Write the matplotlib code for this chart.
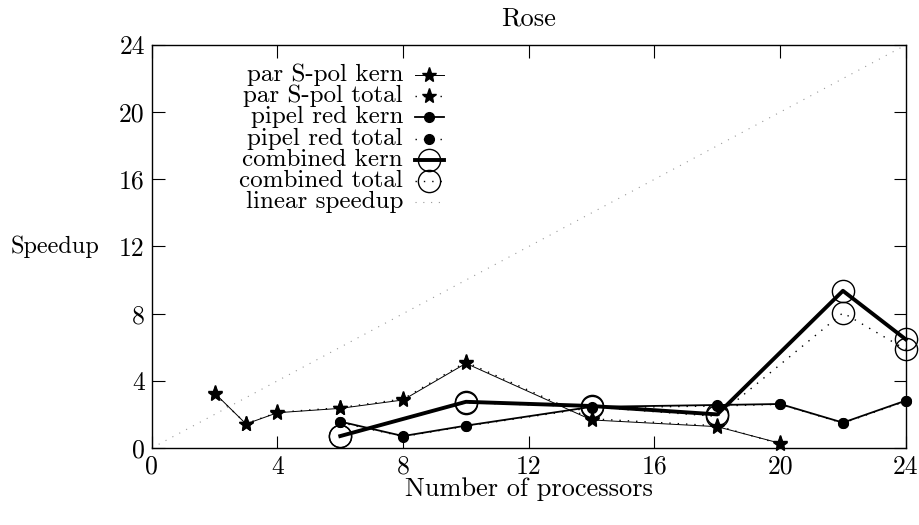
import matplotlib
matplotlib.use("Agg")
import matplotlib.pyplot as plt

# data
procs_spol = [2, 3, 4, 6, 8, 10, 14, 18, 20]
spol_kern = [3.27, 1.43, 2.10, 2.36, 2.86, 5.04, 1.67, 1.27, 0.28]
spol_total = [3.22, 1.45, 2.12, 2.40, 2.92, 5.12, 1.74, 1.32, 0.24]

procs_pipel = [6, 8, 10, 14, 18, 20, 22, 24]
pipel_kern = [1.57, 0.71, 1.33, 2.45, 2.56, 2.62, 1.51, 2.82]
pipel_total = [1.52, 0.68, 1.30, 2.40, 2.50, 2.60, 1.48, 2.78]

procs_comb = [6, 10, 14, 18, 22, 24]
comb_kern = [0.71, 2.75, 2.50, 2.00, 9.36, 6.47]
comb_total = [0.70, 2.70, 2.45, 1.88, 8.05, 5.87]

linear_x = [0, 24]
linear_y = [0, 24]

labels = ["par S-pol kern", "par S-pol total", "pipel red kern", "pipel red total",
          "combined kern", "combined total", "linear speedup"]
ticks = [0, 4, 8, 12, 16, 20, 24]

plt.rcParams["font.family"] = ["cmr10", "DejaVu Serif"]
plt.rcParams["axes.formatter.use_mathtext"] = False
plt.rcParams["font.size"] = 18.5

fig = plt.figure(figsize=(9.2, 5.25), dpi=100)
ax = fig.add_axes([0.165, 0.1467, 0.8195, 0.7676])

dot = (0, (1, 5))
styles = [
    dict(color="black", lw=0.7, ls="-", marker="*", ms=11),
    dict(color="black", lw=1.0, ls=dot, marker="*", ms=11),
    dict(color="black", lw=1.3, ls="-", marker="o", ms=7),
    dict(color="black", lw=1.0, ls=dot, marker="o", ms=7),
    dict(color="black", lw=2.8, ls="-", marker="o", ms=16, mfc="none", mew=1.0),
    dict(color="black", lw=1.0, ls=dot, marker="o", ms=16, mfc="none", mew=1.0),
    dict(color="#999999", lw=0.8, ls=(0, (1, 6)), marker=None),
]

series = [
    (procs_spol, spol_kern), (procs_spol, spol_total),
    (procs_pipel, pipel_kern), (procs_pipel, pipel_total),
    (procs_comb, comb_kern), (procs_comb, comb_total),
    (linear_x, linear_y),
]

for (xs, ys), st in zip(series, styles):
    ax.plot(xs, ys, clip_on=False, **st)

# gnuplot style key: text right aligned, sample to the right
key_x = 0.3333
for i, (lab, st) in enumerate(zip(labels, styles)):
    yk = (448 - (75 + 21.2 * i)) / 403.0
    ax.text(key_x, yk, lab, transform=ax.transAxes, ha="right", va="center",
            fontsize=18)
    ax.plot([0.349, 0.387], [yk, yk], transform=ax.transAxes, clip_on=False,
            color=st["color"], lw=st["lw"], ls=st["ls"])
    if st["marker"]:
        ax.plot([0.368], [yk], transform=ax.transAxes, clip_on=False, ls="none",
                color=st["color"], marker=st["marker"], ms=st["ms"],
                mfc=st.get("mfc", st["color"]), mew=st.get("mew", 1.0))

ax.set_xlim(0, 24)
ax.set_ylim(0, 24)
ax.set_xticks(ticks)
ax.set_yticks(ticks)
ax.tick_params(direction="in", length=9, width=0.8, top=True, right=True, pad=5)
for s in ax.spines.values():
    s.set_linewidth(1.0)

ax.set_title("Rose", pad=14, fontsize=19)
ax.set_xlabel("Number of processors", labelpad=-1, fontsize=19)
ax.set_ylabel("Speedup", rotation=0, ha="right", va="center", fontsize=17.5)
ax.yaxis.set_label_coords(-0.069, 0.5)

fig.savefig("out.png", dpi=100)
